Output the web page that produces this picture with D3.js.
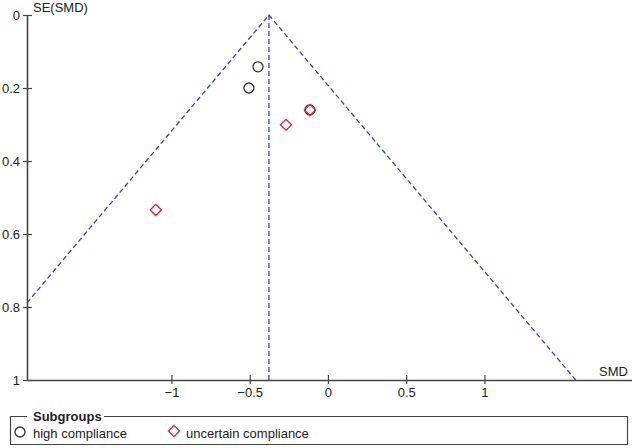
<!DOCTYPE html>
<html>
<head>
<meta charset="utf-8">
<script src="https://cdn.jsdelivr.net/npm/d3@7"></script>
<style>
body { margin: 0; background: #fff; }
text { font-family: "Liberation Sans", Arial, sans-serif; font-size: 13px; fill: #222; }
</style>
</head>
<body>
<svg id="chart" width="632" height="448"></svg>
<script>
// study estimates
const highSMD = [-0.447, -0.505, -0.115];
const highSE = [0.142, 0.200, 0.260];
const uncertainSMD = [-0.115, -0.268, -1.10];
const uncertainSE = [0.260, 0.301, 0.534];
const pooledSMD = -0.377;
const xTicks = [-1, -0.5, 0, 0.5, 1];
const yTicks = [0, 0.2, 0.4, 0.6, 0.8, 1];

const svg = d3.select('#chart');

const xScale = d3.scaleLinear().domain([-1.923, 1.943]).range([27, 632]);
const yScale = d3.scaleLinear().domain([0, 1]).range([15, 380]);

// funnel (95% limits) and pooled line
const funnel = svg.append('g')
    .attr('fill', 'none')
    .attr('stroke', '#3a3ad6')
    .attr('stroke-width', 1.3)
    .attr('stroke-dasharray', '5,3');

const seAtLeft = (pooledSMD - xScale.domain()[0]) / 1.96;
funnel.append('path')
    .attr('d', d3.line()([
        [xScale(xScale.domain()[0]), yScale(seAtLeft)],
        [xScale(pooledSMD), yScale(0)],
        [xScale(pooledSMD + 1.96), yScale(1)]
    ]));
funnel.append('line')
    .attr('x1', xScale(pooledSMD)).attr('x2', xScale(pooledSMD))
    .attr('y1', yScale(0)).attr('y2', yScale(1));

// axes
const yAxis = svg.append('g')
    .attr('transform', 'translate(27,0)')
    .call(d3.axisLeft(yScale).tickValues(yTicks).tickFormat(d3.format('')).tickSizeInner(5).tickSizeOuter(0).tickPadding(2))
    .attr('color', '#444');
yAxis.select('.domain').attr('stroke-width', 1.6);
yAxis.selectAll('.tick line').attr('x2', 5).attr('x1', -4).attr('stroke-width', 1.2);
yAxis.selectAll('text').attr('fill', '#222').style('font-size', '13px').attr('x', -7);

const xAxis = svg.append('g')
    .attr('transform', 'translate(0,380)')
    .call(d3.axisBottom(xScale).tickValues(xTicks).tickFormat(d3.format('')).tickSizeInner(4).tickSizeOuter(0).tickPadding(4))
    .attr('color', '#444');
xAxis.select('.domain').attr('stroke-width', 1.6);
xAxis.selectAll('.tick line').attr('y1', -5).attr('y2', 4).attr('stroke-width', 1.2);
xAxis.selectAll('text').attr('fill', '#222').style('font-size', '13px');

svg.append('text').attr('x', 33).attr('y', 12).text('SE(SMD)');
svg.append('text').attr('x', 628).attr('y', 376).attr('text-anchor', 'end').text('SMD');

// study markers
const diamond = d3.symbol().type(d3.symbolSquare).size(62);

svg.append('g').selectAll('circle')
    .data(highSMD.map((d, i) => [d, highSE[i]]))
    .join('circle')
    .attr('cx', d => xScale(d[0]))
    .attr('cy', d => yScale(d[1]))
    .attr('r', 5)
    .attr('fill', 'none')
    .attr('stroke', '#333')
    .attr('stroke-width', 1.3);

svg.append('g').selectAll('path')
    .data(uncertainSMD.map((d, i) => [d, uncertainSE[i]]))
    .join('path')
    .attr('d', diamond)
    .attr('transform', d => `translate(${xScale(d[0])},${yScale(d[1])}) rotate(45)`)
    .attr('fill', 'none')
    .attr('stroke', '#e0202a')
    .attr('stroke-width', 1.3);

// legend
const legend = svg.append('g');
legend.append('path')
    .attr('d', 'M104,416.5 H627.5 V444.5 H10.5 V416.5 H27')
    .attr('fill', 'none')
    .attr('stroke', '#444')
    .attr('stroke-width', 1.2);
legend.append('text').attr('x', 33).attr('y', 421).style('font-weight', 'bold').text('Subgroups');
legend.append('circle')
    .attr('cx', 20).attr('cy', 432).attr('r', 5)
    .attr('fill', 'none').attr('stroke', '#333').attr('stroke-width', 1.3);
legend.append('text').attr('x', 33).attr('y', 438).text('high compliance');
legend.append('path')
    .attr('d', diamond)
    .attr('transform', 'translate(174,431) rotate(45)')
    .attr('fill', 'none').attr('stroke', '#e0202a').attr('stroke-width', 1.3);
legend.append('text').attr('x', 186).attr('y', 438).text('uncertain compliance');
</script>
</body>
</html>
